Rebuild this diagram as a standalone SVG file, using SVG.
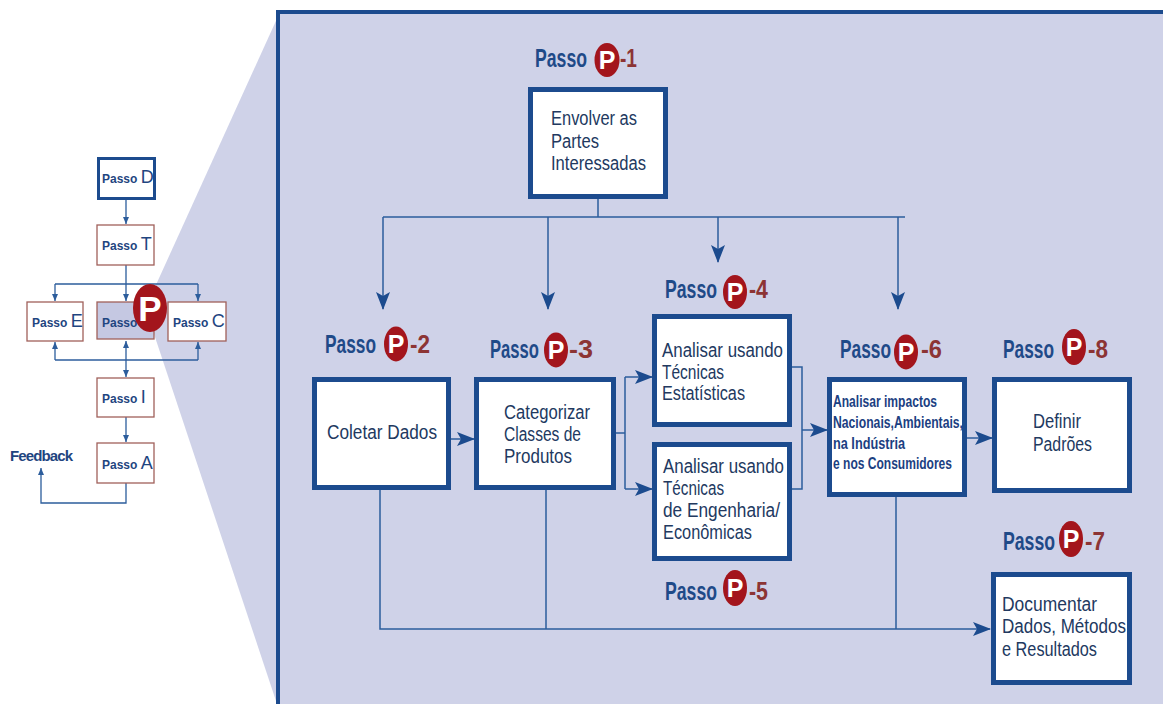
<svg xmlns="http://www.w3.org/2000/svg" width="1163" height="704" viewBox="0 0 1163 704">
  <style>
    .sbox { fill: #ffffff; stroke: #a0605a; stroke-width: 1.3; }
    .sline { fill: none; stroke: #2c5d9c; stroke-width: 1.3; }
    .stxt { font-family: "Liberation Sans", Arial, sans-serif; font-weight: bold; font-size: 12px; fill: #1f4580; }
    .sbig { font-size: 18px; font-weight: normal; }
    .box { fill: #ffffff; stroke: #1c4b8e; stroke-width: 5; }
    .conn { fill: none; stroke: #2c5d9c; stroke-width: 1.5; }
    .btxt { font-family: "Liberation Sans", Arial, sans-serif; font-size: 19.5px; fill: #22395f; }
    .bold { font-weight: bold; font-size: 16px; fill: #1c3f82; }
    .passo { font-family: "Liberation Sans", Arial, sans-serif; font-weight: bold; font-size: 25px; fill: #1f4a88; }
    .num { font-family: "Liberation Sans", Arial, sans-serif; font-weight: bold; font-size: 25px; fill: #8c3434; }
    .pc { fill: #a3151c; }
    .pl { font-family: "Liberation Sans", Arial, sans-serif; font-weight: bold; font-size: 25px; fill: #ffffff; }
  </style>
  <defs>
    <marker id="arr" markerUnits="userSpaceOnUse" markerWidth="20" markerHeight="16" refX="17" refY="7" orient="auto">
      <path d="M0,0 L18,7 L0,14 L4,7 Z" fill="#1c4b8e"/>
    </marker>
    <marker id="sarr" markerUnits="userSpaceOnUse" markerWidth="8" markerHeight="8" refX="7" refY="3" orient="auto-start-reverse">
      <path d="M0,0 L7,3 L0,6 Z" fill="#2c5d9c"/>
    </marker>
  </defs>

  <rect width="1163" height="704" fill="#ffffff"/>

  <!-- zoom wedge and detail panel -->
  <polygon points="280,12 150,298 150,322 277,704 290,704 290,12" fill="#cfd2e8"/>
  <rect x="278" y="12" width="900" height="710" fill="#cfd2e8" stroke="#1c4b8e" stroke-width="4"/>

  <!-- overview flow on the left -->
  <g id="overview">
    <g id="ov-connectors">
      <path class="sline" d="M126,200 V224" marker-end="url(#sarr)"/>
      <path class="sline" d="M126,265 V284 M55,284 H198"/>
      <path class="sline" d="M55,284 V301" marker-end="url(#sarr)"/>
      <path class="sline" d="M126,284 V301" marker-end="url(#sarr)"/>
      <path class="sline" d="M198,284 V301" marker-end="url(#sarr)"/>
      <path class="sline" d="M55,360 H198"/>
      <path class="sline" d="M55,360 V342" marker-end="url(#sarr)"/>
      <path class="sline" d="M198,360 V342" marker-end="url(#sarr)"/>
      <path class="sline" d="M126,341 V377" marker-start="url(#sarr)" marker-end="url(#sarr)"/>
      <path class="sline" d="M126,417 V442" marker-end="url(#sarr)"/>
      <path class="sline" d="M126,483 V503 H41 V468" marker-end="url(#sarr)"/>
    </g>
    <g id="ov-d">
      <rect x="98.5" y="158.5" width="56" height="40" fill="#ffffff" stroke="#1c4b8e" stroke-width="3"/>
      <text class="stxt" x="102" y="183">Passo <tspan class="sbig">D</tspan></text>
    </g>
    <g id="ov-t">
      <rect class="sbox" x="97" y="225" width="57" height="40"/>
      <text class="stxt" x="102" y="250">Passo <tspan class="sbig">T</tspan></text>
    </g>
    <g id="ov-e">
      <rect class="sbox" x="27" y="302" width="56" height="39"/>
      <text class="stxt" x="32" y="327">Passo <tspan class="sbig">E</tspan></text>
    </g>
    <g id="ov-p">
      <rect x="97" y="302" width="57" height="37" fill="#c5c8e2" stroke="#a0605a" stroke-width="1.3"/>
      <text class="stxt" x="102" y="327">Passo</text>
      <ellipse class="pc" cx="150" cy="308" rx="17" ry="24"/>
      <text class="pl" x="150" y="321" text-anchor="middle" style="font-size:35px">P</text>
    </g>
    <g id="ov-c">
      <rect class="sbox" x="168" y="302" width="58" height="39"/>
      <text class="stxt" x="173" y="327">Passo <tspan class="sbig">C</tspan></text>
    </g>
    <g id="ov-i">
      <rect class="sbox" x="97" y="378" width="57" height="39"/>
      <text class="stxt" x="102" y="403">Passo <tspan class="sbig">I</tspan></text>
    </g>
    <g id="ov-a">
      <rect class="sbox" x="97" y="443" width="57" height="40"/>
      <text class="stxt" x="102" y="469">Passo <tspan class="sbig">A</tspan></text>
    </g>
    <text class="stxt" x="10" y="461" style="font-size:15px" textLength="63">Feedback</text>
  </g>

  <!-- connectors of the detail panel -->
  <g id="connectors">
    <path class="conn" d="M598,199 V217 M383,217 H905"/>
    <path class="conn" d="M383,217 V309" marker-end="url(#arr)"/>
    <path class="conn" d="M548,217 V309" marker-end="url(#arr)"/>
    <path class="conn" d="M718,217 V262" marker-end="url(#arr)"/>
    <path class="conn" d="M898,217 V309" marker-end="url(#arr)"/>
    <path class="conn" d="M451,439 H474" marker-end="url(#arr)"/>
    <path class="conn" d="M616,433 H625 M625,377 V489"/>
    <path class="conn" d="M625,377 H652" marker-end="url(#arr)"/>
    <path class="conn" d="M625,489 H652" marker-end="url(#arr)"/>
    <path class="conn" d="M792,367 H802 V489 H792"/>
    <path class="conn" d="M802,430 H827" marker-end="url(#arr)"/>
    <path class="conn" d="M967,438 H992" marker-end="url(#arr)"/>
    <path class="conn" d="M380,489 V629 H990" marker-end="url(#arr)"/>
    <path class="conn" d="M546,490 V629 M896,497 V629"/>
  </g>

  <!-- step P-1 -->
  <g id="p1">
    <text class="passo" x="535" y="67" textLength="52" lengthAdjust="spacingAndGlyphs">Passo</text>
    <ellipse class="pc" cx="607" cy="60" rx="12.5" ry="17"/>
    <text class="pl" x="607" y="69" text-anchor="middle">P</text>
    <text class="num" x="620" y="67" textLength="17" lengthAdjust="spacingAndGlyphs">-1</text>
    <rect class="box" x="530.5" y="89.5" width="135" height="107"/>
    <text class="btxt" x="551" y="125" textLength="86" lengthAdjust="spacingAndGlyphs">Envolver as</text>
    <text class="btxt" x="551" y="148" textLength="48" lengthAdjust="spacingAndGlyphs">Partes</text>
    <text class="btxt" x="551" y="170" textLength="95" lengthAdjust="spacingAndGlyphs">Interessadas</text>
  </g>

  <!-- step P-2 -->
  <g id="p2">
    <text class="passo" x="325" y="353" textLength="51" lengthAdjust="spacingAndGlyphs">Passo</text>
    <ellipse class="pc" cx="396" cy="344" rx="12" ry="17.5"/>
    <text class="pl" x="396" y="353" text-anchor="middle">P</text>
    <text class="num" x="410" y="353" textLength="20" lengthAdjust="spacingAndGlyphs">-2</text>
    <rect class="box" x="314.5" y="379.5" width="134" height="108"/>
    <text class="btxt" x="327" y="439" textLength="110" lengthAdjust="spacingAndGlyphs">Coletar Dados</text>
  </g>

  <!-- step P-3 -->
  <g id="p3">
    <text class="passo" x="490" y="358" textLength="49" lengthAdjust="spacingAndGlyphs">Passo</text>
    <ellipse class="pc" cx="556" cy="350" rx="12" ry="17.5"/>
    <text class="pl" x="556" y="359" text-anchor="middle">P</text>
    <text class="num" x="569" y="358" textLength="24" lengthAdjust="spacingAndGlyphs">-3</text>
    <rect class="box" x="476.5" y="379.5" width="137" height="108"/>
    <text class="btxt" x="504" y="419" textLength="86" lengthAdjust="spacingAndGlyphs">Categorizar</text>
    <text class="btxt" x="504" y="441" textLength="77" lengthAdjust="spacingAndGlyphs">Classes de</text>
    <text class="btxt" x="504" y="463" textLength="68" lengthAdjust="spacingAndGlyphs">Produtos</text>
  </g>

  <!-- step P-4 -->
  <g id="p4">
    <text class="passo" x="665" y="298" textLength="52" lengthAdjust="spacingAndGlyphs">Passo</text>
    <ellipse class="pc" cx="735" cy="292" rx="12" ry="17"/>
    <text class="pl" x="735" y="301" text-anchor="middle">P</text>
    <text class="num" x="749" y="298" textLength="19" lengthAdjust="spacingAndGlyphs">-4</text>
    <rect class="box" x="654.5" y="316.5" width="135" height="108"/>
    <text class="btxt" x="662" y="357" textLength="121" lengthAdjust="spacingAndGlyphs">Analisar usando</text>
    <text class="btxt" x="662" y="379" textLength="62" lengthAdjust="spacingAndGlyphs">Técnicas</text>
    <text class="btxt" x="662" y="400" textLength="83" lengthAdjust="spacingAndGlyphs">Estatísticas</text>
  </g>

  <!-- step P-5 -->
  <g id="p5">
    <rect class="box" x="654.5" y="444.5" width="135" height="114"/>
    <text class="btxt" x="663" y="473" textLength="121" lengthAdjust="spacingAndGlyphs">Analisar usando</text>
    <text class="btxt" x="663" y="495" textLength="61" lengthAdjust="spacingAndGlyphs">Técnicas</text>
    <text class="btxt" x="663" y="517" textLength="117" lengthAdjust="spacingAndGlyphs">de Engenharia/</text>
    <text class="btxt" x="663" y="539" textLength="89" lengthAdjust="spacingAndGlyphs">Econômicas</text>
    <text class="passo" x="665" y="600" textLength="52" lengthAdjust="spacingAndGlyphs">Passo</text>
    <ellipse class="pc" cx="735" cy="588" rx="12" ry="18"/>
    <text class="pl" x="735" y="597" text-anchor="middle">P</text>
    <text class="num" x="749" y="600" textLength="19" lengthAdjust="spacingAndGlyphs">-5</text>
  </g>

  <!-- step P-6 -->
  <g id="p6">
    <text class="passo" x="840" y="358" textLength="51" lengthAdjust="spacingAndGlyphs">Passo</text>
    <ellipse class="pc" cx="906" cy="352" rx="12" ry="17.5"/>
    <text class="pl" x="906" y="361" text-anchor="middle">P</text>
    <text class="num" x="921" y="358" textLength="21" lengthAdjust="spacingAndGlyphs">-6</text>
    <rect class="box" x="829.5" y="379.5" width="135" height="115"/>
    <text class="btxt bold" x="833" y="407" textLength="104" lengthAdjust="spacingAndGlyphs">Analisar impactos</text>
    <text class="btxt bold" x="833" y="428" textLength="130" lengthAdjust="spacingAndGlyphs">Nacionais,Ambientais,</text>
    <text class="btxt bold" x="833" y="449" textLength="72" lengthAdjust="spacingAndGlyphs">na Indústria</text>
    <text class="btxt bold" x="833" y="469" textLength="119" lengthAdjust="spacingAndGlyphs">e nos Consumidores</text>
  </g>

  <!-- step P-8 -->
  <g id="p8">
    <text class="passo" x="1003" y="358" textLength="51" lengthAdjust="spacingAndGlyphs">Passo</text>
    <ellipse class="pc" cx="1074" cy="347" rx="12" ry="18"/>
    <text class="pl" x="1074" y="356" text-anchor="middle">P</text>
    <text class="num" x="1088" y="358" textLength="20" lengthAdjust="spacingAndGlyphs">-8</text>
    <rect class="box" x="994.5" y="379.5" width="135" height="111"/>
    <text class="btxt" x="1033" y="428" textLength="48" lengthAdjust="spacingAndGlyphs">Definir</text>
    <text class="btxt" x="1033" y="451" textLength="59" lengthAdjust="spacingAndGlyphs">Padrões</text>
  </g>

  <!-- step P-7 -->
  <g id="p7">
    <text class="passo" x="1003" y="550" textLength="52" lengthAdjust="spacingAndGlyphs">Passo</text>
    <ellipse class="pc" cx="1071" cy="539" rx="12" ry="18"/>
    <text class="pl" x="1071" y="548" text-anchor="middle">P</text>
    <text class="num" x="1085" y="550" textLength="20" lengthAdjust="spacingAndGlyphs">-7</text>
    <rect class="box" x="993.5" y="574.5" width="136" height="108"/>
    <text class="btxt" x="1002" y="611" textLength="95" lengthAdjust="spacingAndGlyphs">Documentar</text>
    <text class="btxt" x="1002" y="633" textLength="124" lengthAdjust="spacingAndGlyphs">Dados, Métodos</text>
    <text class="btxt" x="1002" y="656" textLength="95" lengthAdjust="spacingAndGlyphs">e Resultados</text>
  </g>
</svg>
